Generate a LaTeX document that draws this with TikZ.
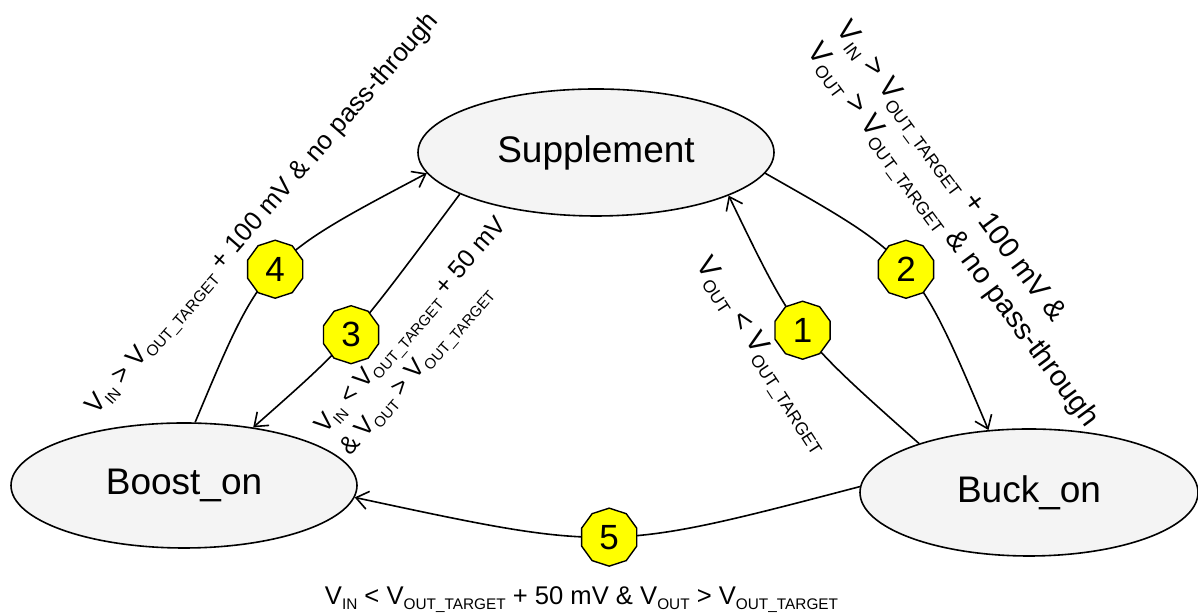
\documentclass[tikz,border=0pt]{standalone}
\usepackage{fontspec}
\setmainfont{Liberation Sans}
\usepackage{graphicx}
\usetikzlibrary{shapes.geometric,arrows.meta}
\definecolor{stateGray}{RGB}{244,244,244}
\definecolor{badgeYellow}{RGB}{255,255,0}
\newcommand{\Vs}[1]{V\raisebox{-0.2em}{\scalebox{0.6}{#1}}}
\newcommand{\Vt}{\Vs{OUT\_TARGET}}

\begin{document}
\begin{tikzpicture}[x=0.5pt, y=0.5pt]
    \tikzstyle{state} = [ellipse, draw=black, fill=stateGray, line width=0.8pt, inner sep=0pt, font=\fontsize{18.5}{22}\selectfont]
    \tikzstyle{badge} = [regular polygon, regular polygon sides=10, shape border rotate=18, draw=black, fill=badgeYellow, line width=0.7pt, minimum size=29pt, inner sep=0pt, font=\fontsize{17.5}{20}\selectfont]
    \tikzstyle{edge} = [-{Straight Barb[length=6pt, width=9pt]}, line width=0.8pt]
    \tikzstyle{cond} = [inner sep=1pt, align=left]
    \useasboundingbox (0,0) rectangle (1198,613);
    % states
    \node[state, minimum width=178pt, minimum height=63.5pt] (supp) at (596,460.5) {Supplement};
    \node[state, minimum width=173pt, minimum height=62.5pt] (boost) at (184,127.5) {Boost\_on};
    \node[state, minimum width=169pt, minimum height=63.5pt] (buck) at (1029,120.5) {Buck\_on};
    % transitions
    \draw[edge] (buck.156) .. controls (795.5,279.2) .. (supp.-18) node[badge, pos=0.5] (b1) {1};
    \draw[edge] (supp.-7) .. controls (915.7,354.5) .. (buck.123) node[badge, pos=0.5] (b2) {2};
    \draw[edge] (supp.197) .. controls (349.3,270.3) .. (boost.40) node[badge, pos=0.5] (b3) {3};
    \draw[edge] (boost.80) .. controls (263.2,353.3) .. (supp.187) node[badge, pos=0.5] (b4) {4};
    \draw[edge] (buck.178) .. controls (609.8,60.8) .. (boost.-4) node[badge, pos=0.5] (b5) {5};
    % conditions
    \node[cond, rotate=-57, font=\fontsize{14.5}{18}\selectfont] (c1) at (761,257) {\Vs{OUT} < \Vt};
    \node[cond, rotate=-53.5, font=\fontsize{14.5}{18}\selectfont] (c2) at (965,387) {\Vs{IN} > \Vt{} + 100 mV \&\\\Vs{OUT} > \Vt{} \& no pass-through};
    \node[cond, rotate=49, font=\fontsize{12.5}{16.5}\selectfont] (c3) at (425,275) {\Vs{IN} < \Vt{} + 50 mV\\\& \Vs{OUT} > \Vt};
    \node[cond, rotate=49, font=\fontsize{13}{16}\selectfont] (c4) at (264,398) {\Vs{IN} > \Vt{} + 100 mV \& no pass-through};
    \node[cond, font=\fontsize{12.8}{16}\selectfont] (c5) at (581.5,13) {\Vs{IN} < \Vt{} + 50 mV \& \Vs{OUT} > \Vt};
\end{tikzpicture}
\end{document}
